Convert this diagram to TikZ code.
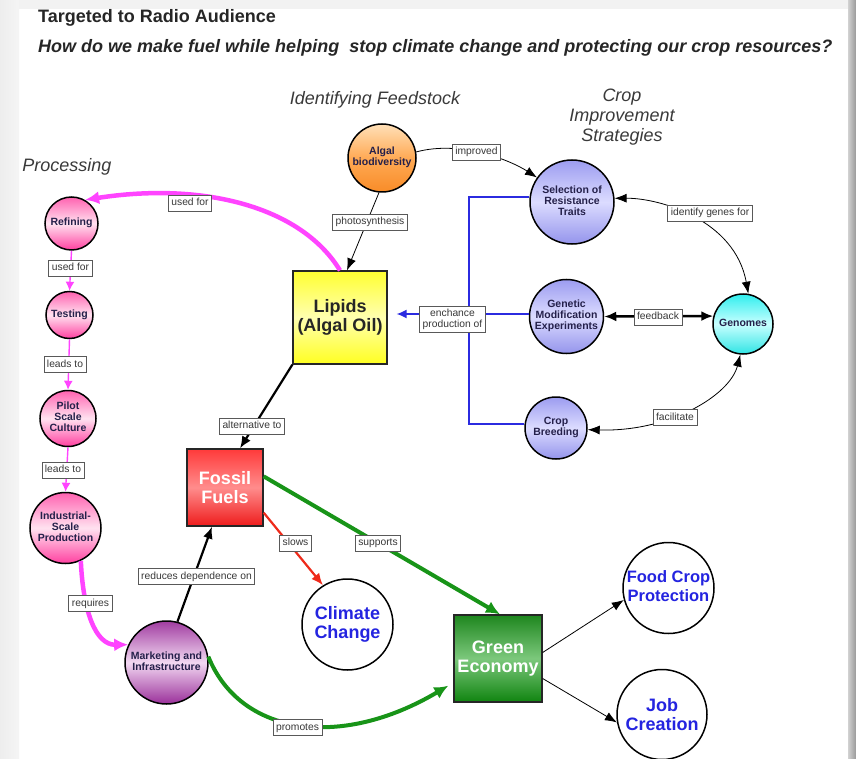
\documentclass[tikz,border=0pt]{standalone}
\usepackage{fontspec}
\setmainfont{Liberation Sans}
\usetikzlibrary{arrows.meta,calc}
\newcommand{\cbox}[1]{\makebox[0pt]{\begin{tabular}{@{}c@{}}#1\end{tabular}}}
\definecolor{mag}{HTML}{FF44FF}
\definecolor{bluel}{HTML}{2B2BE0}
\definecolor{gline}{HTML}{189418}
\definecolor{redl}{HTML}{EE2A1A}
\definecolor{ctext}{HTML}{24204A}
\definecolor{bigblue}{HTML}{2424E0}
\definecolor{lbltext}{HTML}{383838}
\definecolor{sectext}{HTML}{3A3A3A}
\definecolor{pk1}{HTML}{FF62B0}
\definecolor{pk2}{HTML}{FFE2F0}
\definecolor{pk3}{HTML}{FF40A0}
\definecolor{or1}{HTML}{FFE0B8}
\definecolor{or2}{HTML}{FFAA55}
\definecolor{or3}{HTML}{F88C28}
\definecolor{lv1}{HTML}{9C9CF0}
\definecolor{lv2}{HTML}{DCDCFF}
\definecolor{lv3}{HTML}{9494EC}
\definecolor{cy1}{HTML}{30EEEE}
\definecolor{cy2}{HTML}{C8FFFF}
\definecolor{cy3}{HTML}{30E4E4}
\definecolor{pu1}{HTML}{A03CA0}
\definecolor{pu2}{HTML}{F2D8F2}
\definecolor{pu3}{HTML}{9A309A}
\definecolor{ye1}{HTML}{FFFF30}
\definecolor{ye2}{HTML}{FFFFB0}
\definecolor{ye3}{HTML}{FFFF20}
\definecolor{rd1}{HTML}{FF3A3A}
\definecolor{rd2}{HTML}{FF8C8C}
\definecolor{rd3}{HTML}{EE1C1C}
\definecolor{gr1}{HTML}{1E861E}
\definecolor{gr2}{HTML}{7CC87C}
\definecolor{gr3}{HTML}{108410}
\begin{document}
\begin{tikzpicture}[x=1pt,y=-1pt,
  circ/.style={circle, draw=black, line width=1.5pt, inner sep=0pt,
    font=\fontsize{10.5}{11}\selectfont\bfseries, text=ctext},
  pinkc/.style={circ, top color=pk1, bottom color=pk3, middle color=pk2},
  orc/.style={circ, top color=or1, bottom color=or3, middle color=or2},
  lavc/.style={circ, top color=lv1, bottom color=lv3, middle color=lv2},
  cyc/.style={circ, top color=cy1, bottom color=cy3, middle color=cy2},
  purc/.style={circ, top color=pu1, bottom color=pu3, middle color=pu2},
  whitec/.style={circle, draw=black, line width=1.5pt, fill=white, inner sep=0pt,
    font=\fontsize{18}{19.5}\selectfont\bfseries, text=bigblue, align=center},
  sq/.style={rectangle, draw=black!85, line width=1.3pt, inner sep=0pt,
    font=\fontsize{18}{19.5}\selectfont\bfseries, align=center},
  lblbase/.style={rectangle, draw=black!65, line width=0.8pt, fill=white, text=lbltext,
    font=\fontsize{10.3}{11}\selectfont, inner xsep=3pt},
  lbl/.style={lblbase, inner ysep=3.2pt, text height=7.5pt, text depth=2pt},
  lbltwo/.style={lblbase, inner ysep=2.5pt, align=center},
  sect/.style={font=\fontsize{18}{20}\selectfont\itshape, text=sectext, align=center},
  magthick/.style={draw=mag, line width=4.5pt, -{Latex[length=14pt,width=13pt]}},
  magthin/.style={draw=mag, line width=1.4pt, -{Latex[length=9pt,width=9pt]}},
  blkthin/.style={draw=black, line width=0.8pt, -{Latex[length=12pt,width=9pt]}},
  blkthick/.style={draw=black, line width=2.2pt, -{Latex[length=12pt,width=10pt]}},
  grnthick/.style={draw=gline, line width=4pt, -{Latex[length=14pt,width=13pt]}},
  redline/.style={draw=redl, line width=2.2pt, -{Latex[length=12pt,width=10pt]}},
  blueline/.style={draw=bluel, line width=1.4pt}
]
\useasboundingbox (0,0) rectangle (856,759);
% page frame
\fill[white] (0,0) rectangle (856,759);
\shade[left color=black!7, right color=black!4] (0,0) rectangle (19,759);
\fill[black!5] (19,0) rectangle (848,9);
\shade[left color=black!18, right color=black!40] (848,0) rectangle (856,759);

% titles
\node[anchor=west, inner sep=0pt, font=\fontsize{18}{20}\selectfont\bfseries, text=black!85] (t1) at (38,18) {Targeted to Radio Audience};
\node[anchor=west, inner sep=0pt, font=\fontsize{18}{20}\selectfont\bfseries\itshape, text=black!85] (t2) at (38,48) {How do we make fuel while helping\ \ stop climate change and protecting our crop resources?};
\node[sect] (s1) at (375,100) {Identifying Feedstock};
\node[sect] (s2) at (622,117) {Crop\\Improvement\\Strategies};
\node[sect] (s3) at (67,167) {Processing};

% concept nodes
\node[orc, minimum size=68pt] (alg) at (382,158) {\cbox{Algal\\biodiversity}};
\node[lavc, minimum size=84pt] (sel) at (572,202) {\cbox{Selection of\\Resistance\\Traits}};
\node[lavc, minimum size=74pt] (gme) at (566.5,316.5) {\cbox{Genetic\\Modification\\Experiments}};
\node[lavc, minimum size=62pt] (crop) at (556,428) {\cbox{Crop\\Breeding}};
\node[cyc, minimum size=60pt] (gen) at (743,324) {\cbox{Genomes}};
\node[sq, minimum width=94pt, minimum height=93pt, top color=ye1, bottom color=ye3, middle color=ye2, text=black!85] (lip) at (340,317.5) {Lipids\\(Algal Oil)};
\node[sq, minimum width=76pt, minimum height=77pt, top color=rd1, bottom color=rd3, middle color=rd2, text=white] (fos) at (225,487.5) {Fossil\\Fuels};
\node[sq, minimum width=88pt, minimum height=87pt, top color=gr1, bottom color=gr3, middle color=gr2, text=white] (ge) at (498,658.5) {Green\\Economy};
\node[whitec, minimum size=91pt] (clim) at (347.5,624.5) {Climate\\Change};
\node[whitec, minimum size=91pt, font=\fontsize{16.5}{19}\selectfont\bfseries] (food) at (668.5,588) {\makebox[0pt]{\begin{tabular}{@{}c@{}}Food Crop\\Protection\end{tabular}}};
\node[whitec, minimum size=90pt] (job) at (662,714.5) {Job\\Creation};
\node[pinkc, minimum size=53pt] (ref) at (71.5,223.5) {\cbox{Refining}};
\node[pinkc, minimum size=47pt] (test) at (69.5,315) {\cbox{Testing}};
\node[pinkc, minimum size=56pt] (pil) at (68,418.5) {\cbox{Pilot\\Scale\\Culture}};
\node[pinkc, minimum size=71pt] (ind) at (65.5,528) {\cbox{Industrial-\\Scale\\Production}};
\node[purc, minimum size=83pt] (mkt) at (166.5,662.5) {\cbox{Marketing and\\Infrastructure}};

% blue connector
\coordinate (bt) at (469,197);
\coordinate (bm) at (469,314);
\coordinate (bb) at (469,424);
\draw[blueline] (sel.west |- bt) -- (bt) -- (bb) -- (crop.west |- bb);
\draw[blueline, -{Latex[length=10pt,width=9pt]}] (gme.west |- bm) -- ($(lip.east |- bm)+(9,0)$);

% connectors
\draw[magthick] (lip.north) .. controls (300,205) and (200,182) .. (ref.60);
\draw[magthin] (ref.south) -- (test.north);
\draw[magthin] (test.south) -- (pil.north);
\draw[magthin] (pil.south) -- (ind.north);
\draw[magthick] (ind.-65) .. controls (83,610) and (95,645) .. (mkt.155);
\draw[blkthin] (alg.-95) -- ($(lip.north)+(7,0)$);
\draw[blkthin] (alg.10) .. controls (460,140) and (510,160) .. (sel.145);
\draw[blkthin, {Latex[length=12pt,width=9pt]}-{Latex[length=12pt,width=9pt]}] (sel.5) .. controls (660,198) and (735,220) .. (gen.80);
\draw[blkthin, {Latex[length=12pt,width=9pt]}-{Latex[length=12pt,width=9pt]}] (gen.-95) .. controls (730,395) and (670,432) .. (crop.-3);
\draw[draw=black, line width=2.5pt, {Latex[length=12pt,width=10pt]}-{Latex[length=12pt,width=10pt]}] (gme.east) -- (gen.165);
\draw[blkthick] (lip.south west) -- ($(fos.north)+(15,0)$);
\draw[redline] ($(fos.south east)+(0,-14)$) -- (clim.122);
\draw[grnthick] ($(fos.north east)+(0,28)$) -- ($(ge.north)+(2,0)$);
\draw[blkthick] (mkt.75) -- ($(fos.south)+(-13,0)$);
\draw[grnthick] (mkt.8) .. controls (240,735) and (340,750) .. ($(ge.south west)+(-5,-17)$);
\draw[blkthin] ($(ge.east)+(0,-6)$) -- (food.195);
\draw[blkthin] ($(ge.east)+(0,20)$) -- (job.190);

% connector labels
\node[lbl] (l1) at (190,203) {used for};
\node[lbl] (l2) at (70.5,268) {used for};
\node[lbl] (l3) at (65,364.5) {leads to};
\node[lbl] (l4) at (63,470) {leads to};
\node[lbl] (l5) at (90.5,603.5) {requires};
\node[lbl] (l6) at (370,222) {photosynthesis};
\node[lbl] (l7) at (476.5,152) {improved};
\node[lbl] (l8) at (710,213) {identify genes for};
\node[lbl] (l9) at (658,317) {feedback};
\node[lbl] (l10) at (675,417.5) {facilitate};
\node[lbltwo] (l11) at (452.5,319.5) {enchance\\production of};
\node[lbl] (l12) at (252,426) {alternative to};
\node[lbl] (l13) at (295.5,543) {slows};
\node[lbl] (l14) at (378,543) {supports};
\node[lbl] (l15) at (196.5,576.5) {reduces dependence on};
\node[lbl] (l16) at (297.5,727.5) {promotes};
\end{tikzpicture}
\end{document}
